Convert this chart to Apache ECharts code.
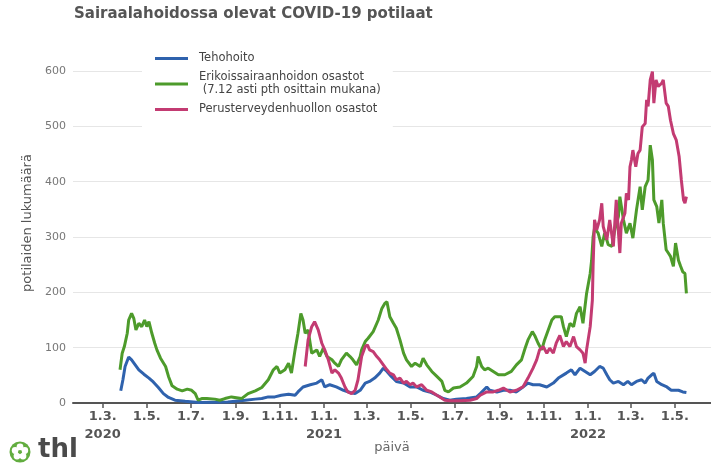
<!DOCTYPE html>
<html>
<head>
<meta charset="utf-8">
<script src="https://cdn.jsdelivr.net/npm/echarts@6/dist/echarts.min.js"></script>
<style>
  html, body { margin: 0; padding: 0; background: #fff; }
  #chart { width: 711px; height: 464px; }
</style>
</head>
<body>
<div id="chart"></div>
<script>
// days counted from 1.3.2020
var tickDates = ['2020-03-01', '2020-05-01', '2020-07-01', '2020-09-01', '2020-11-01',
  '2021-01-01', '2021-03-01', '2021-05-01', '2021-07-01', '2021-09-01', '2021-11-01',
  '2022-01-01', '2022-03-01', '2022-05-01']
var tickLabels = ['1.3.\n2020', '1.5.', '1.7.', '1.9.', '1.11.',
  '1.1.\n2021', '1.3.', '1.5.', '1.7.', '1.9.', '1.11.',
  '1.1.\n2022', '1.3.', '1.5.']

var seriesNames = ['Tehohoito', 'Erikoissairaanhoidon osastot\n (7.12 asti pth osittain mukana)', 'Perusterveydenhuollon osastot']

var tehoDays = [25, 28, 31, 36, 40, 45, 50, 57, 64, 70, 77, 84, 91, 100, 114, 133, 173, 197, 211, 220,
  229, 238, 247, 257, 266, 270, 277, 287, 296, 303, 307, 314, 323, 333, 342, 349, 356, 363, 369, 376,
  383, 388, 393, 399, 406, 416, 425, 434, 443, 452, 462, 471, 480, 489, 503, 517, 522, 531, 535, 545,
  554, 563, 572, 581, 588, 595, 604, 614, 623, 630, 641, 648, 653, 660, 667, 674, 680, 687, 692, 697,
  701, 706, 713, 720, 726, 731, 738, 745, 750, 754, 759, 762, 766, 773, 780, 786, 796, 802, 807]
var tehoValues = [22, 42, 66, 83, 78, 69, 60, 52, 45, 38, 28, 17, 10, 5, 3, 1, 2, 5, 7, 8,
  11, 11, 14, 16, 14, 20, 29, 33, 36, 42, 29, 33, 29, 23, 19, 17, 23, 36, 39, 45,
  54, 63, 57, 48, 39, 36, 29, 29, 23, 20, 14, 8, 5, 7, 8, 11, 17, 29, 23, 20,
  23, 23, 20, 29, 36, 33, 33, 29, 36, 45, 54, 60, 51, 63, 57, 51, 57, 66, 63, 51,
  42, 36, 39, 33, 39, 33, 39, 42, 36, 45, 51, 54, 39, 33, 29, 23, 23, 20, 19]

var eshDays = [24, 27, 30, 34, 36, 40, 43, 46, 50, 54, 58, 61, 64, 68, 72, 75, 80, 87, 91, 96,
  103, 110, 117, 123, 128, 132, 137, 144, 155, 162, 169, 178, 192, 201, 211, 220, 229, 236, 241, 245,
  252, 257, 261, 266, 270, 274, 277, 280, 284, 289, 296, 300, 305, 310, 317, 321, 326, 330, 337, 342,
  346, 351, 356, 358, 363, 367, 374, 381, 386, 390, 393, 397, 402, 406, 411, 416, 420, 427, 432, 439,
  443, 448, 455, 462, 469, 473, 478, 485, 494, 503, 512, 517, 519, 524, 528, 533, 540, 547, 556, 565,
  572, 579, 584, 588, 594, 598, 602, 607, 611, 616, 621, 625, 634, 637, 641, 646, 651, 655, 660, 664,
  669, 674, 676, 678, 680, 685, 690, 694, 699, 704, 708, 713, 715, 720, 724, 729, 733, 738, 743, 746,
  750, 754, 757, 760, 762, 766, 769, 773, 775, 779, 782, 785, 789, 792, 796, 799, 802, 805, 807]
var eshValues = [60, 90, 102, 126, 150, 162, 153, 132, 144, 138, 150, 138, 147, 126, 108, 96, 81, 66, 48, 31,
  25, 22, 25, 23, 17, 5, 8, 8, 7, 5, 8, 11, 8, 17, 22, 28, 42, 60, 66, 54,
  60, 72, 54, 96, 126, 162, 150, 126, 132, 90, 96, 84, 99, 84, 78, 72, 66, 78, 90, 84,
  78, 69, 84, 96, 111, 117, 129, 150, 171, 180, 183, 156, 144, 135, 114, 90, 78, 66, 72, 66,
  81, 69, 57, 48, 39, 23, 20, 27, 29, 36, 48, 66, 84, 66, 60, 63, 57, 51, 51, 57,
  69, 78, 99, 114, 129, 120, 108, 96, 114, 132, 150, 156, 156, 138, 120, 144, 138, 162, 174, 144,
  198, 234, 258, 300, 316, 307, 283, 307, 286, 283, 313, 337, 373, 331, 307, 325, 298, 349, 391, 349,
  391, 403, 466, 439, 367, 355, 325, 367, 325, 277, 271, 265, 247, 289, 258, 247, 237, 234, 198]

var pthDays = [280, 284, 289, 293, 298, 303, 307, 312, 317, 321, 326, 330, 335, 339, 344, 349, 353, 358, 363, 366,
  369, 374, 379, 383, 388, 393, 397, 402, 406, 411, 416, 420, 425, 429, 434, 441, 448, 455, 462, 466,
  473, 480, 494, 508, 517, 522, 531, 540, 547, 554, 563, 572, 581, 588, 595, 600, 604, 609, 614, 618,
  623, 627, 632, 637, 641, 646, 651, 655, 660, 664, 667, 669, 674, 677, 678, 680, 683, 687, 690, 692,
  697, 701, 706, 710, 715, 717, 722, 724, 727, 729, 731, 733, 737, 740, 743, 746, 750, 752, 754, 757,
  760, 762, 765, 768, 773, 775, 779, 782, 785, 789, 793, 797, 800, 803, 805, 807]
var pthValues = [66, 114, 138, 147, 132, 108, 96, 78, 54, 60, 54, 45, 29, 20, 17, 23, 42, 84, 102, 105,
  96, 93, 84, 78, 69, 60, 54, 51, 42, 45, 36, 39, 33, 36, 29, 33, 23, 20, 14, 11,
  5, 4, 4, 5, 8, 14, 20, 20, 23, 27, 20, 23, 29, 45, 63, 78, 96, 102, 90, 99,
  90, 108, 122, 102, 111, 102, 120, 102, 96, 90, 72, 96, 138, 186, 247, 331, 313, 331, 361, 319,
  295, 331, 283, 367, 271, 325, 343, 379, 367, 427, 439, 457, 427, 451, 457, 499, 505, 548, 536, 584,
  599, 542, 584, 572, 578, 584, 542, 536, 511, 487, 475, 445, 403, 367, 361, 373]

var colors = ['#2f62ad', '#4d9b2b', '#c33b72']
var font = 'DejaVu Sans'

function dayOf(s) {
  var p = s.split('-').map(Number)
  return Math.round((Date.UTC(p[0], p[1] - 1, p[2]) - Date.UTC(2020, 2, 1)) / 864e5)
}
var tickDays = tickDates.map(dayOf)

function pairs(days, values) {
  return days.map(function(d, i) { return [d, values[i]] })
}

var chart = echarts.init(document.getElementById('chart'))
chart.setOption({
  animation: false,
  color: colors,
  title: {
    text: 'Sairaalahoidossa olevat COVID-19 potilaat',
    left: 74,
    top: 7,
    padding: 0,
    textStyle: { fontFamily: font, fontSize: 15, fontWeight: 'bold', color: '#555' }
  },
  legend: {
    orient: 'vertical',
    left: 142,
    top: 48,
    padding: [4, 12, 16, 13],
    backgroundColor: '#fff',
    icon: 'rect',
    itemWidth: 33,
    itemHeight: 3,
    itemGap: 6,
    data: seriesNames,
    textStyle: { fontFamily: font, fontSize: 11.5, color: '#444', lineHeight: 13, padding: [0, 0, 0, 6] }
  },
  grid: { left: 73, right: 0, top: 71, bottom: 61, outerBoundsMode: 'none' },
  xAxis: {
    type: 'value',
    min: -41,
    max: 841,
    name: 'päivä',
    nameLocation: 'middle',
    nameGap: 38,
    nameMoveOverlap: false,
    nameTextStyle: { fontFamily: font, fontSize: 13, color: '#666' },
    splitLine: { show: false },
    axisLine: { lineStyle: { color: '#555', width: 2 } },
    axisTick: { customValues: tickDays, length: 5, lineStyle: { color: '#555', width: 1.5 } },
    axisLabel: {
      customValues: tickDays,
      margin: 5,
      fontFamily: font,
      fontSize: 13,
      fontWeight: 'bold',
      color: '#555',
      lineHeight: 18,
      formatter: function(v) {
        var i = tickDays.indexOf(v)
        return i < 0 ? '' : tickLabels[i]
      }
    }
  },
  yAxis: {
    type: 'value',
    min: 0,
    max: 600,
    interval: 100,
    name: 'potilaiden lukumäärä',
    nameLocation: 'middle',
    nameGap: 33,
    nameTextStyle: { fontFamily: font, fontSize: 13, color: '#555', padding: [0, 0, 0, 28] },
    axisLine: { show: false },
    axisTick: { show: false },
    axisLabel: { fontFamily: font, fontSize: 11, color: '#777', margin: 7 },
    splitLine: { lineStyle: { color: '#e6e6e6', width: 1 } }
  },
  graphic: [
    { type: 'circle', shape: { cx: 20, cy: 452, r: 10.5 }, style: { fill: '#62ad3f' } },
    { type: 'circle', shape: { cx: 20, cy: 447, r: 3.4 }, style: { fill: '#fff' } },
    { type: 'circle', shape: { cx: 24.8, cy: 450.5, r: 3.4 }, style: { fill: '#fff' } },
    { type: 'circle', shape: { cx: 23, cy: 456.1, r: 3.4 }, style: { fill: '#fff' } },
    { type: 'circle', shape: { cx: 17, cy: 456.1, r: 3.4 }, style: { fill: '#fff' } },
    { type: 'circle', shape: { cx: 15.2, cy: 450.5, r: 3.4 }, style: { fill: '#fff' } },
    { type: 'circle', shape: { cx: 20, cy: 452, r: 1.8 }, style: { fill: '#62ad3f' } },
    { type: 'text', left: 38, top: 437, style: { text: 'thl', fontFamily: font, fontSize: 26, fontWeight: 'bold', fill: '#4a4a4a' } }
  ],
  series: [
    { name: seriesNames[0], type: 'line', data: pairs(tehoDays, tehoValues), showSymbol: false, clip: false, lineStyle: { width: 3 } },
    { name: seriesNames[1], type: 'line', data: pairs(eshDays, eshValues), showSymbol: false, clip: false, lineStyle: { width: 3 } },
    { name: seriesNames[2], type: 'line', data: pairs(pthDays, pthValues), showSymbol: false, clip: false, lineStyle: { width: 3 } }
  ]
})
</script>
</body>
</html>
